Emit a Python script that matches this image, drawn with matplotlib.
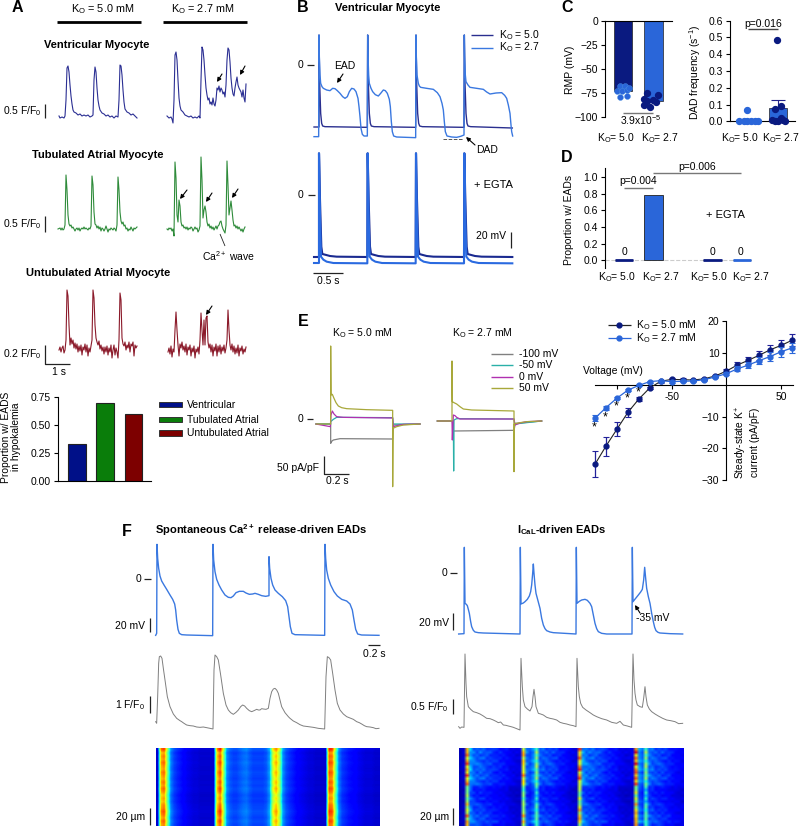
import numpy as np
import matplotlib
matplotlib.use('Agg')
import matplotlib.pyplot as plt

plt.rcParams['font.family'] = ['Liberation Sans', 'DejaVu Sans']
plt.rcParams['font.size'] = 7.5
plt.rcParams['mathtext.fontset'] = 'custom'
plt.rcParams['mathtext.rm'] = 'Liberation Sans'
plt.rcParams['mathtext.it'] = 'Liberation Sans'
plt.rcParams['mathtext.bf'] = 'Liberation Sans:bold'
plt.rcParams['mathtext.default'] = 'regular'

KO5 = 'K$_{O}$ = 5.0'
KO27 = 'K$_{O}$ = 2.7'
NAVY = '#0a1a80'
BLUE = '#2a66d9'
TR_BLUE = '#3a78e0'
GREY_TR = '#7f7f7f'

# ---- Panel A traces (digitised x, y pairs) ----
a_v5 = [59,116,60,118,62,117,64,118,65,116,66,100,67,68,68,66,69,72,70,85,71,96,72,104,73,110,74,112,76,113,78,115,80,114,82,116,84,115,86,116,88,115,90,117,92,116,93,115,94,80,95,67,96,72,97,88,98,100,99,106,100,110,102,113,104,114,106,116,108,115,110,117,112,116,114,118,116,116,118,117,119,100,120,65,121,66,122,75,123,90,124,102,125,109,127,112,129,113,131,115,133,114,135,116,137,118]
a_v27 = [167,116,169,118,171,117,172,119,173,123,174,100,175,55,176,52,177,60,178,80,179,98,180,106,181,110,183,112,185,115,187,116,189,117,191,116,193,118,195,117,197,118,199,116,200,118,201,80,202,47,203,50,204,60,205,75,206,88,207,95,208,100,209,98,210,104,211,102,212,105,213,98,214,104,215,106,216,100,217,88,218,90,219,86,220,92,221,88,222,90,223,94,224,92,225,97,226,85,227,60,228,48,229,50,230,62,231,78,232,88,233,94,234,96,235,88,236,82,237,77,238,85,239,88,240,90,241,92,242,97,243,90,244,98,245,102,246,84]
a_t5 = [58,229,60,228,61,230,62,228,63,230,64,229,65,225,66,175,67,190,68,215,69,224,70,226,71,225,72,228,73,227,74,229,75,231,76,229,77,228,78,230,79,228,80,231,81,229,82,228,83,229,84,227,85,229,86,228,87,229,88,230,89,228,90,229,91,226,92,176,93,185,94,212,95,224,96,225,97,228,98,226,99,229,100,227,101,231,102,228,103,229,104,231,105,229,106,226,107,229,108,232,109,229,110,230,111,228,112,229,113,230,114,228,115,229,116,231,117,225,118,177,119,190,120,212,121,221,122,224,123,222,124,226,125,225,126,229,127,228,128,231,129,229,130,230,131,227,132,229,133,231,134,228,135,229,136,228,137,227]
a_t27 = [167,229,168,230,169,228,170,229,171,228,172,231,173,229,174,236,175,162,176,178,177,215,178,222,179,200,180,206,181,222,182,226,183,225,184,228,185,227,186,229,187,227,188,230,189,228,190,229,191,227,192,228,193,231,194,229,195,227,196,229,197,228,198,232,199,230,200,226,201,157,202,180,203,218,204,210,205,206,206,212,207,222,208,226,209,224,210,228,211,226,212,229,213,227,214,230,215,228,216,226,217,229,218,226,219,225,220,222,221,221,222,226,223,229,224,231,225,233,226,225,227,161,228,185,229,215,230,208,231,201,232,210,233,220,234,226,235,225,236,228,237,226,238,229,239,227,240,229,241,231,242,229,243,232,244,229,245,227]
a_u5 = [59,350,60,347,61,352,62,348,63,346,64,353,65,350,66,340,67,290,68,296,69,325,70,345,71,338,72,344,73,340,74,348,75,343,76,349,77,344,78,352,79,346,80,351,81,345,82,355,83,347,84,350,85,344,86,352,87,345,88,356,89,348,90,352,91,346,92,340,93,290,94,298,95,325,96,338,97,342,98,345,99,341,100,349,101,345,102,351,103,347,104,354,105,347,106,352,107,346,108,355,109,348,110,352,111,345,112,358,113,350,114,345,115,355,116,348,117,352,118,358,119,340,120,293,121,300,122,338,123,344,124,346,125,342,126,350,127,345,128,348,129,342,130,352,131,344,132,346,133,342,134,356,135,345,136,348,137,346]
a_u27 = [168,352,169,348,170,354,171,346,172,357,173,349,174,352,175,330,176,312,177,330,178,345,179,356,180,344,181,348,182,342,183,350,184,346,185,352,186,344,187,355,188,347,189,350,190,345,191,356,192,348,193,352,194,346,195,358,196,349,197,352,198,347,199,354,200,340,201,313,202,330,203,345,204,320,205,345,206,318,207,316,208,342,209,348,210,344,211,352,212,345,213,356,214,347,215,351,216,344,217,356,218,346,219,352,220,345,221,354,222,347,223,351,224,345,225,353,226,348,227,340,228,310,229,330,230,345,231,350,232,344,233,352,234,346,235,354,236,348,237,353,238,345,239,356,240,348,241,351,242,346,243,354,244,349,245,352,246,347]

prop_labels = ['Ventricular', 'Tubulated Atrial', 'Untubulated Atrial']
prop_values = [0.33, 0.69, 0.60]
prop_colors = ['#001088', '#0a7d0a', '#7d0000']

# ---- Panel B traces (crop units) ----
b_k5 = [72,381,87,381,87,105,89,250,92,340,95,370,98,378,105,380,232,382,233,105,235,250,238,340,241,370,244,378,252,380,377,382,378,105,380,250,383,340,386,370,389,378,397,380,522,382,523,105,525,250,528,340,531,370,534,378,542,380,667,384]
b_k27 = [72,410,86,410,87,105,88,170,90,225,92,250,96,260,100,265,110,270,120,272,128,265,135,266,142,272,150,280,158,290,165,295,172,290,178,275,185,265,192,267,198,275,204,295,207,320,210,350,213,385,217,403,222,408,232,408,233,105,234,170,236,225,238,250,243,265,248,275,256,284,265,288,272,280,280,270,286,272,292,280,298,298,301,320,304,365,307,395,311,408,320,411,377,413,378,105,379,170,381,225,385,250,388,258,392,262,410,265,430,268,442,278,450,290,456,310,460,330,463,365,466,395,471,408,485,411,500,412,512,409,522,405,523,105,524,170,526,225,528,245,534,255,540,262,560,265,580,268,590,276,600,282,618,279,635,278,644,286,650,295,655,315,660,340,663,375,665,395,668,408]
b_e5 = [72,771,87,771,87,460,90,600,94,740,97,762,105,764,120,768,140,770,232,771,233,460,236,600,240,740,243,762,250,764,265,768,285,770,377,771,378,460,381,600,385,740,388,762,395,764,410,768,430,770,522,771,523,460,526,600,530,740,533,762,540,764,555,768,575,770,667,771]
b_e27 = [72,789,87,789,87,460,90,650,93,770,100,779,110,785,130,789,232,790,233,460,236,650,239,770,246,779,256,785,276,789,377,790,378,460,381,650,384,770,391,779,401,785,421,789,522,790,523,460,526,650,529,770,536,779,546,785,566,789,667,790]

# ---- Panel C / D ----
rmp_cat = [0, 1]
rmp_means = [-73, -84]
rmp_pts5_x = [-0.1, 0.07, -0.19, -0.04, 0.13, 0.2, 0.12, -0.1]
rmp_pts5_y = [-68, -68, -73, -73, -72, -70, -78, -80]
rmp_pts27_x = [-0.22, 0.14, -0.32, -0.2, 0.08, 0.0, -0.3, -0.12]
rmp_pts27_y = [-75, -77, -82, -84, -85, -83, -88, -90]
dad_cat = [0, 1]
dad_means = [0.005, 0.08]
dad_err = 0.05
dad_pts5_x = [-0.3, -0.16, -0.03, 0.1, 0.24, 0.34, -0.03]
dad_pts5_y = [0, 0, 0, 0, 0, 0, 0.067]
dad_pts27_x = [-0.02, -0.1, 0.09, -0.21, -0.1, 0.09, 0.24, 0.01, 0.16]
dad_pts27_y = [0.485, 0.075, 0.09, 0.01, 0.0, 0.02, 0.0, 0.0, 0.01]
ead_cat = [0, 1, 3, 4]
ead_vals = [0, 0.78, 0, 0]

# ---- Panel E traces (crop units) ----
e5_100 = [78,372,122,372,122,430,125,424,130,420,150,416,308,417,310,375,390,372]
e5_50n = [78,372,122,372,122,365,130,358,140,352,308,353,310,372,390,372]
e5_0 = [78,372,121,380,123,345,127,333,132,342,140,350,160,352,308,354,310,380,325,376,340,373,390,372]
e5_50 = [78,372,122,372,122,138,123,285,127,283,132,295,138,308,145,318,155,323,170,326,230,329,308,331,308,560,309,385,320,380,340,375,390,372]
e27_100 = [442,363,487,363,490,393,672,391,676,370,755,363]
e27_50n = [442,363,490,363,491,513,492,360,500,356,672,357,674,372,755,363]
e27_0 = [442,363,486,363,487,420,490,345,495,347,500,352,510,357,672,357,675,375,690,369,710,365,755,363]
e27_50 = [442,363,486,363,486,183,487,305,492,308,500,312,510,320,520,327,545,330,672,333,672,515,673,372,690,368,710,365,755,363]
e_colors = ['#808080', '#2ab0a8', '#b030b0', '#a8a83a']
e_labels = ['-100 mV', '-50 mV', '0 mV', '50 mV']

# ---- I-V curve ----
iv_v = [-120,-110,-100,-90,-80,-70,-60,-50,-40,-30,-20,-10,0,10,20,30,40,50,60]
iv_k5 = [-25,-19.3,-14,-8.7,-4.5,-1,1.1,1.7,1.6,1.5,1.9,2.8,4.3,6.2,7.7,9.3,11,12.4,14]
iv_k5_e = [4,3,2.2,1.3,0.6,0.4,0.4,0.4,0.4,0.3,0.3,0.4,0.6,1,1.2,1.4,1.6,1.8,1.9]
iv_k27 = [-10.5,-7.2,-4.2,-1.7,-0.2,1,1.3,1,1.1,1.2,1.6,2.5,3.5,5,6.2,7.6,8.9,10.4,11.6]
iv_k27_e = [1,0.6,0.4,0.3,0.3,0.3,0.3,0.3,0.3,0.3,0.3,0.4,0.5,0.8,1,1.1,1.3,1.6,1.7]

# ---- Panel F traces (crop units) ----
f_l_v = [107,376,110,370,111,103,113,145,116,175,120,198,125,213,132,225,140,238,150,255,158,268,164,282,167,300,170,330,174,358,178,370,185,374,200,375,278,377,279,103,281,150,285,185,290,208,297,225,305,240,315,255,325,262,333,263,340,258,348,248,358,244,370,244,378,249,388,253,398,252,405,250,415,253,425,257,437,259,447,257,447,140,449,175,453,205,458,225,465,240,475,250,487,260,497,272,503,290,507,320,511,350,516,370,525,374,614,376,615,103,617,145,620,180,625,205,632,225,642,245,652,258,665,268,680,273,690,282,697,300,702,330,707,358,713,372,725,375,777,376]
f_l_c = [107,635,110,640,113,560,116,460,118,440,122,438,126,445,130,475,135,510,142,560,150,590,160,612,170,625,180,632,185,635,192,640,200,645,210,647,220,648,230,651,240,652,250,651,260,653,270,655,279,657,282,480,285,435,290,440,295,450,302,495,310,550,318,585,325,600,332,608,340,613,348,607,355,600,362,590,368,585,374,588,380,595,388,602,395,605,402,602,410,598,415,600,420,600,425,596,430,597,438,598,445,595,450,565,455,545,460,537,465,535,470,540,475,550,480,570,485,590,495,608,505,620,510,625,520,633,530,638,540,644,550,648,565,650,580,652,595,655,614,657,618,500,622,440,627,443,632,450,638,490,645,540,652,580,660,600,670,612,680,620,690,624,700,628,710,635,718,638,725,642,733,647,740,650,750,651,760,653,768,656,777,655]
f_r_v = [146,372,162,371,163,112,165,280,169,283,172,287,175,298,178,310,182,335,185,350,190,361,195,366,205,368,220,369,330,372,331,112,333,282,340,279,345,275,352,268,358,258,362,245,365,225,368,190,370,162,372,190,375,225,378,250,382,265,386,280,390,295,395,325,400,345,405,356,410,362,420,366,430,368,498,372,499,112,501,280,508,274,515,270,525,268,532,271,540,280,545,290,550,315,555,340,560,356,565,365,575,370,590,372,666,372,667,112,669,275,677,265,685,255,692,246,697,238,701,210,704,172,707,205,710,235,715,260,720,280,725,310,730,335,734,352,738,362,744,367,750,369,780,371,818,372]
f_r_c = [146,650,150,655,155,651,162,652,165,432,168,520,170,560,175,590,182,598,190,605,200,608,210,612,220,618,230,625,240,626,250,630,258,634,265,638,272,636,280,645,288,646,295,648,303,650,310,652,320,656,330,660,333,445,337,530,340,570,345,590,352,597,360,603,366,590,369,560,372,538,375,560,378,590,385,610,392,612,400,615,410,622,420,625,430,627,440,630,450,637,460,640,470,642,480,645,490,647,498,650,501,445,505,530,508,560,512,580,518,592,528,600,540,608,550,615,560,620,575,626,590,630,605,637,620,640,630,634,640,645,652,648,665,652,669,432,672,510,675,550,678,570,682,585,690,590,697,592,701,565,705,530,708,560,712,585,718,597,725,605,735,612,745,618,758,625,770,630,782,632,795,635,806,641,818,640]

f_l_profile = [.07,.72,.78,.5,.25,.19,.16,.14,.12,.1,.09,.08,.08,.07,.07,.07,.07,.07,
               .68,.82,.55,.26,.21,.19,.19,.21,.23,.24,.21,.19,.19,.19,.19,.21,.28,.6,.7,.55,.27,.2,.17,.15,.13,.11,.1,.09,.08,.08,.07,.07,.07,.07,
               .8,.78,.5,.25,.18,.16,.14,.13,.12,.1,.09,.08,.08,.08,.07,.07]
f_l_rows = [1.1,.95,1.02,.98,1.05,1.0,.97,1.04,1.0,.96,1.03,.98,1.05,1.0,.92,.97,.93,1.0,1.02,1.08,1.04,.98,1.06,1.0]
f_r_profile = [.05,.07,.68,.27,.22,.2,.2,.19,.18,.17,.16,.15,.14,.13,.12,.1,.09,.08,.08,.62,.22,.19,.25,.45,.2,.19,.19,.18,.17,.16,.14,.13,.12,.1,.09,.08,
               .68,.26,.22,.2,.2,.19,.18,.17,.15,.14,.13,.12,.1,.09,.08,.08,.09,.72,.26,.21,.45,.22,.2,.19,.18,.17,.16,.15,.13,.12,.11,.1]
f_r_rows = [1.05,1.1,1.0,1.08,1.02,1.1,1.04,1.08,1.0,1.06,1.1,.98,1.04,.8,.72,.78,.7,.82,.76,.9,.85,.92,.88,1.02,.95,1.05,.9]
f_r_tile = [[1.1,.9,1.0,1.2,.85,1.05,.95,1.15,.9,1.0,1.1],
            [.85,1.15,.95,.9,1.1,.85,1.2,.95,1.05,1.15,.9],
            [1.05,.95,1.2,1.0,.9,1.15,.85,1.0,1.2,.9,1.0],
            [.95,1.1,.85,1.15,1.05,.9,1.1,1.2,.85,1.05,.95],
            [1.2,.85,1.05,.95,1.15,1.0,.9,.85,1.1,.95,1.15],
            [.9,1.05,1.15,.85,1.0,1.2,1.05,.9,1.0,1.15,.85],
            [1.0,1.2,.9,1.1,.85,.95,1.15,1.05,.95,.85,1.1]]

fig = plt.figure(figsize=(8.0, 8.26), dpi=100, facecolor='white')
ov = fig.add_axes([0, 0, 1, 1], zorder=5)
ov.set_xlim(0, 800); ov.set_ylim(826, 0); ov.axis('off'); ov.patch.set_alpha(0)


def pairs(flat):
    a = np.array(flat, float).reshape(-1, 2)
    return a[:, 0], a[:, 1]


def axpx(x0, y0, x1, y1, **kw):
    return fig.add_axes([x0/800, 1-y1/826, (x1-x0)/800, (y1-y0)/826], **kw)


def t(x, y, s, ha='left', va='center', **kw):
    kw.setdefault('fontsize', 7.5)
    ov.text(x, y, s, ha=ha, va=va, **kw)


def seg(x, y, lw=0.9, color='#222222', **kw):
    ov.plot(x, y, color=color, lw=lw, solid_capstyle='butt', **kw)


def arr(xy0, xy1, color='black'):
    ov.annotate('', xy=xy1, xytext=xy0,
                arrowprops=dict(arrowstyle='-|>', color=color, lw=0.8, mutation_scale=6,
                                shrinkA=0, shrinkB=0))


def crop(ox, oy):
    return lambda flat: (lambda a: (ox + a[0]/3, oy + a[1]/3))(pairs(flat))


def letter(x, y, s):
    t(x, y, s, ha='center', fontsize=11.5, fontweight='bold')


# ===== Panel A =====
letter(17.5, 8, 'A')
t(103, 9, 'K$_{O}$ = 5.0 mM', ha='center', fontsize=7.8)
t(203, 9, 'K$_{O}$ = 2.7 mM', ha='center', fontsize=7.8)
seg([57, 141], [22, 22], lw=2, color='black')
seg([163, 247], [22, 22], lw=2, color='black')
t(97, 45, 'Ventricular Myocyte', ha='center', fontweight='bold', fontsize=8)
t(98, 155, 'Tubulated Atrial Myocyte', ha='center', fontweight='bold', fontsize=8)
t(98, 273, 'Untubulated Atrial Myocyte', ha='center', fontweight='bold', fontsize=8)
for tr in (a_v5, a_v27):
    ov.plot(*pairs(tr), color='#2b2f93', lw=0.8)
for tr in (a_t5, a_t27):
    ov.plot(*pairs(tr), color='#2e8b3a', lw=0.8)
for tr in (a_u5, a_u27):
    ov.plot(*pairs(tr), color='#8b1a2a', lw=0.8)
arr((222, 74), (217, 82)); arr((245, 66), (240, 75))
arr((187, 190), (180, 199)); arr((212, 193), (206, 202)); arr((238, 189), (232, 198))
arr((212, 306), (206, 315))
seg([220, 225], [234, 246], lw=0.6)
t(229, 256, 'Ca$^{2+}$ wave', ha='center')
t(3, 111, '0.5 F/F$_{0}$'); seg([44.5, 44.5], [104, 118])
t(3, 224, '0.5 F/F$_{0}$'); seg([44.5, 44.5], [216, 232])
t(3, 354, '0.2 F/F$_{0}$'); seg([44.5, 44.5, 70], [345, 364, 364])
t(59, 372, '1 s', ha='center')

ax = axpx(58, 396.7, 150.7, 481)
ax.bar(range(3), prop_values, width=0.62, color=prop_colors, edgecolor='#222222', linewidth=0.8)
ax.set_xlim(-0.68, 2.62); ax.set_ylim(0, 0.75)
ax.set_yticks([0, 0.25, 0.5, 0.75]); ax.set_yticklabels(['0.00', '0.25', '0.50', '0.75'])
ax.set_xticks([])
ax.tick_params(length=3, width=0.8, labelsize=7.5, pad=2)
for s in ('top', 'right'):
    ax.spines[s].set_visible(False)
ax.patch.set_alpha(0)
t(11, 437, 'Proportion w/ EADS\nin hypokalemia', ha='center', rotation=90, fontsize=7.4, linespacing=1.05)
for lab, col, yy in zip(prop_labels, prop_colors, [404.7, 419.7, 433]):
    ov.add_patch(plt.Rectangle((159, yy-2.7), 23, 5.4, facecolor=col, edgecolor='#333333', lw=0.7))
    t(187, yy, lab)

# ===== Panel B =====
B = crop(290, 0)
letter(303, 7, 'B')
t(388, 8, 'Ventricular Myocyte', ha='center', fontweight='bold', fontsize=8)
ov.plot(*B(b_k5), color='#2a2f8f', lw=1.0)
ov.plot(*B(b_k27), color=TR_BLUE, lw=1.0)
ov.plot(*B(b_e5), color='#1a2a90', lw=1.5)
ov.plot(*B(b_e27), color='#2a6ae0', lw=1.5)
t(300, 65, '0', ha='center'); seg([307, 314], [65, 65])
t(300, 195, '0', ha='center'); seg([308, 315], [195, 195])
seg([471, 493], [35, 35], lw=1.0, color='#2a2f8f'); t(499, 35, KO5)
seg([471, 493], [47.5, 47.5], lw=1.0, color=TR_BLUE); t(499, 47.5, KO27)
t(345, 66, 'EAD', ha='center'); arr((343, 74), (337, 83))
seg([443, 463], [139, 139], lw=0.7, color='#555555', ls='--')
arr((475, 145), (466, 137)); t(487, 150, 'DAD', ha='center')
t(493, 185, '+ EGTA', ha='center', fontsize=8)
t(476, 236, '20 mV'); seg([511, 511], [232, 248])
seg([313, 343], [273, 273]); t(328, 281, '0.5 s', ha='center')

# ===== Panel C =====
letter(567, 8, 'C')
ax = axpx(605, 20.7, 672, 116.7)
ax.bar(rmp_cat, rmp_means, width=0.6, color=[NAVY, BLUE], edgecolor='#222222', linewidth=0.5)
ax.scatter(rmp_pts5_x, rmp_pts5_y, s=18, color=BLUE, edgecolor='#4a90e0', linewidth=0.3, zorder=3, clip_on=False)
ax.scatter(np.array(rmp_pts27_x)+1, rmp_pts27_y, s=18, color=NAVY, zorder=3, clip_on=False)
ax.set_xlim(-0.59, 1.607); ax.set_ylim(-100, 0)
ax.set_yticks([0, -25, -50, -75, -100]); ax.set_xticks([])
ax.tick_params(length=3, width=0.8, labelsize=7.5, pad=2)
for s in ('bottom', 'right'):
    ax.spines[s].set_visible(False)
ax.patch.set_alpha(0)
seg([623, 653], [112.7, 112.7], color='#777777', lw=1)
t(641, 120, '3.9x10$^{-5}$', ha='center')
t(570, 70, 'RMP (mV)', ha='center', rotation=90)
t(616, 138, 'K$_{O}$= 5.0', ha='center'); t(660, 138, 'K$_{O}$= 2.7', ha='center')

ax = axpx(730, 20.7, 795, 121.3)
ax.bar(dad_cat, dad_means, width=0.62, color=[NAVY, BLUE], edgecolor='#222222', linewidth=0.5)
ax.errorbar([1], [dad_means[1]], yerr=[[0], [dad_err]], color='#222288', capsize=5, lw=0.8, capthick=0.8)
ax.scatter(dad_pts5_x, dad_pts5_y, s=18, color=BLUE, zorder=3, clip_on=False)
ax.scatter(np.array(dad_pts27_x)+1, dad_pts27_y, s=18, color=NAVY, zorder=3, clip_on=False)
ax.set_xlim(-0.617, 1.57); ax.set_ylim(0, 0.6)
ax.set_yticks(np.arange(0, 0.61, 0.1)); ax.set_xticks([])
ax.tick_params(length=3, width=0.8, labelsize=7.5, pad=2)
for s in ('top', 'right'):
    ax.spines[s].set_visible(False)
ax.patch.set_alpha(0)
t(763, 24, 'p=0.016', ha='center')
seg([748, 778], [29, 29], color='#444444', lw=1)
t(695, 72, 'DAD frequency (s$^{-1}$)', ha='center', rotation=90)
t(740, 138, 'K$_{O}$= 5.0', ha='center'); t(781, 138, 'K$_{O}$= 2.7', ha='center')

# ===== Panel D =====
letter(567, 158, 'D')
ax = axpx(605, 168, 770, 268)
ax.axhline(0, color='#cccccc', lw=0.8, ls='--', xmax=0.85, zorder=0)
ax.bar(ead_cat, ead_vals, width=0.62, color=[NAVY, BLUE, NAVY, BLUE], edgecolor='#222222', linewidth=0.6)
for c, col in zip(ead_cat, [NAVY, None, NAVY, BLUE]):
    if col:
        ax.plot([c-0.31, c+0.31], [0, 0], color=col, lw=2, solid_capstyle='butt')
ax.set_xlim(-0.644, 4.95); ax.set_ylim(-0.092, 1.108)
ax.set_yticks(np.arange(0, 1.01, 0.2)); ax.set_xticks([])
ax.tick_params(length=3, width=0.8, labelsize=7.5, pad=2)
for s in ('top', 'right', 'bottom'):
    ax.spines[s].set_visible(False)
ax.patch.set_alpha(0)
for xx in (625, 712, 741):
    t(xx, 252, '0', ha='center')
t(638, 181, 'p=0.004', ha='center'); seg([624, 653], [188, 188], color='#777777', lw=1)
t(697, 167, 'p=0.006', ha='center'); seg([653, 741], [173, 173], color='#777777', lw=1)
t(725, 215, '+ EGTA', ha='center', fontsize=8)
t(569, 220, 'Proportion w/ EADs', ha='center', rotation=90)
for xx, lab in zip([617, 661, 709, 751], ['K$_{O}$= 5.0', 'K$_{O}$= 2.7', 'K$_{O}$= 5.0', 'K$_{O}$= 2.7']):
    t(xx, 277, lab, ha='center')

# ===== Panel E =====
E = crop(290, 300)
letter(303, 321, 'E')
t(362, 333, 'K$_{O}$ = 5.0 mM', ha='center')
t(482, 333, 'K$_{O}$ = 2.7 mM', ha='center')
for tr, col in zip((e5_100, e5_50n, e5_0, e5_50), e_colors):
    ov.plot(*E(tr), color=col, lw=0.9)
for tr, col in zip((e27_100, e27_50n, e27_0, e27_50), e_colors):
    ov.plot(*E(tr), color=col, lw=0.9)
for col, lab, yy in zip(e_colors, e_labels, [354.3, 365.3, 376.7, 388]):
    seg([490.7, 512.7], [yy, yy], color=col, lw=1)
    t(519, yy, lab)
t(300, 419, '0', ha='center'); seg([307, 313], [419, 419])
t(277, 468, '50 pA/pF'); seg([324, 324, 349], [456, 474, 474])
t(337, 481, '0.2 s', ha='center')

# ===== I-V =====
ax = axpx(585, 321.3, 795, 480)
ax.errorbar(iv_v, iv_k5, yerr=iv_k5_e, color='#222222', ecolor='#22229a', marker='o', ms=3.5,
            mfc=NAVY, mec=NAVY, lw=0.8, elinewidth=0.9, capsize=2.2, capthick=0.8, zorder=3)
ax.errorbar(iv_v, iv_k27, yerr=iv_k27_e, color=BLUE, ecolor=BLUE, marker='o', ms=3.5,
            mfc=BLUE, mec=BLUE, lw=0.9, elinewidth=0.9, capsize=2.2, capthick=0.8, zorder=4)
ax.set_xlim(-129.2, 62.8); ax.set_ylim(-30, 20)
ax.spines['left'].set_position(('data', 0)); ax.spines['bottom'].set_position(('data', 0))
ax.spines['bottom'].set_bounds(-120, 61)
for s in ('top', 'right'):
    ax.spines[s].set_visible(False)
ax.set_yticks([-30, -20, -10, 10, 20]); ax.set_xticks([-100, -50, 50])
ax.set_xticklabels(['', '-50', '50'])
ax.tick_params(length=3, width=0.8, labelsize=7.5, pad=2)
ax.patch.set_alpha(0)
t(583, 371, 'Voltage (mV)')
seg([608, 631], [325, 325], color='#222222')
ov.plot([619], [325], 'o', ms=3.5, color=NAVY)
t(636, 325, 'K$_{O}$ = 5.0 mM')
seg([608, 631], [338, 338], color=BLUE)
ov.plot([619], [338], 'o', ms=3.5, color=BLUE)
t(636, 338, 'K$_{O}$ = 2.7 mM')
for xx, yy in zip([594, 605, 616, 627, 638], [427, 417, 406, 398, 392]):
    t(xx, yy, '*', ha='center', fontsize=9)
t(747, 442, 'Steady-state K$^{+}$\ncurrent (pA/pF)', ha='center', rotation=90, fontsize=7.4, linespacing=1.05)

# ===== Panel F =====
F1 = crop(120, 510)
F2 = crop(410, 510)
letter(127, 532, 'F')
t(155, 530, 'Spontaneous Ca$^{\\mathbf{2+}}$ release-driven EADs', fontweight='bold', fontsize=8)
t(562, 530, 'I$_{\\mathbf{CaL}}$-driven EADs', ha='center', fontweight='bold', fontsize=8)
ov.plot(*F1(f_l_v), color=TR_BLUE, lw=1.0)
ov.plot(*F1(f_l_c), color=GREY_TR, lw=0.7)
ov.plot(*F2(f_r_v), color=TR_BLUE, lw=1.0)
ov.plot(*F2(f_r_c), color=GREY_TR, lw=0.7)
t(138, 579, '0', ha='center'); seg([144, 151], [579, 579])
t(145, 626, '20 mV', ha='right'); seg([149.5, 149.5], [618, 632])
t(145, 705, '1 F/F$_{0}$', ha='right'); seg([149.5, 149.5], [696, 713])
t(145, 817, '20 µm', ha='right'); seg([149.5, 149.5], [808, 825])
seg([368, 380], [645, 645]); t(374, 654, '0.2 s', ha='center')
t(445, 573, '0', ha='center'); seg([450, 457], [573, 573])
t(449, 623, '20 mV', ha='right'); seg([452.5, 452.5], [613, 630])
t(449, 707, '0.5 F/F$_{0}$', ha='right'); seg([452.5, 452.5], [699, 714])
t(449, 817, '20 µm', ha='right'); seg([452.5, 452.5], [808, 825])
arr((640, 613), (635, 605))
t(653, 618, '-35 mV', ha='center')

ax = axpx(155.7, 748, 379.3, 826)
H = np.outer(f_l_rows, f_l_profile)
ax.imshow(H, cmap='jet', vmin=0, vmax=1, aspect='auto', interpolation='bilinear')
ax.axis('off')
ax = axpx(458.7, 748, 682.7, 826)
H = np.outer(f_r_rows, f_r_profile)
tile = np.array(f_r_tile)
H = H * np.tile(tile, (4, 7))[:H.shape[0], :H.shape[1]]
ax.imshow(H, cmap='jet', vmin=0, vmax=1, aspect='auto', interpolation='bilinear')
ax.axis('off')

fig.savefig('out.png', dpi=100)
